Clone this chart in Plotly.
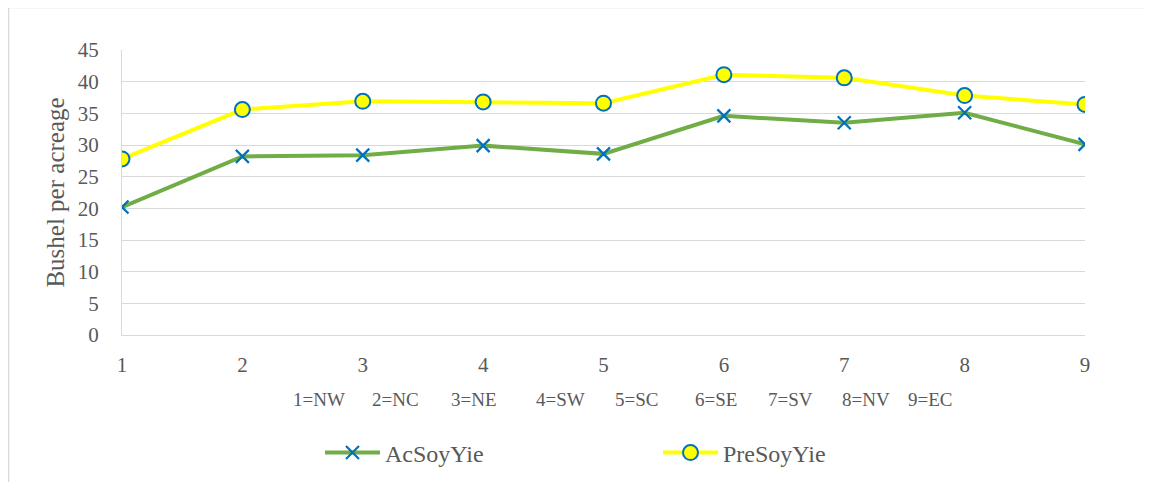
import plotly.graph_objects as go

regions = [1, 2, 3, 4, 5, 6, 7, 8, 9]
region_codes = ["NW", "NC", "NE", "SW", "SC", "SE", "SV", "NV", "EC"]
ac_soy_yie = [20.2, 28.2, 28.4, 29.9, 28.6, 34.6, 33.5, 35.1, 30.1]
pre_soy_yie = [27.8, 35.6, 36.9, 36.8, 36.6, 41.1, 40.6, 37.8, 36.4]
y_ticks = [0, 5, 10, 15, 20, 25, 30, 35, 40, 45]

FONT = "Liberation Serif"
GRAY = "#595959"

fig = go.Figure()
fig.add_trace(go.Scatter(
    x=regions, y=ac_soy_yie, name="AcSoyYie", mode="lines+markers",
    line=dict(color="#70AD47", width=4),
    marker=dict(symbol="x-thin", size=13, line=dict(color="#0070C0", width=2.2), color="#0070C0"),
))
fig.add_trace(go.Scatter(
    x=regions, y=pre_soy_yie, name="PreSoyYie", mode="lines+markers",
    line=dict(color="#FFFF00", width=4),
    marker=dict(symbol="circle", size=15, color="#FFFF00", line=dict(color="#0070C0", width=2)),
))

OFF = 8  # page body margin
L, R, T, B = 122 - OFF, 1085 - OFF, 50 - OFF, 335 - OFF
W, H = 1153, 482

# centres (page px) of the region key labels below the axis
note_px = [319, 395, 474, 560, 636, 716, 790, 866, 930]
annotations = [
    dict(text=f"{r}={c}", x=(px - OFF - L) / (R - L), y=(B - (399 - OFF)) / (B - T),
         xref="paper", yref="paper", xanchor="center", yanchor="middle", showarrow=False,
         font=dict(size=19, color=GRAY, family=FONT))
    for r, c, px in zip(regions, region_codes, note_px)
]

fig.update_layout(
    width=W, height=H,
    margin=dict(l=L, r=W - R, t=T, b=H - B, pad=0),
    paper_bgcolor="white", plot_bgcolor="white",
    font=dict(family=FONT, color=GRAY, size=21),
    showlegend=True,
    legend=dict(orientation="h", x=(320 - OFF - L) / (R - L), xanchor="left", y=-0.335, yanchor="top",
                font=dict(size=24, color=GRAY, family=FONT), itemwidth=55,
                tracegroupgap=0, entrywidth=268),
    xaxis=dict(range=[1, 9], tickvals=regions, ticktext=[str(r) for r in regions],
               showgrid=False, zeroline=False, showline=True, linecolor="#d9d9d9",
               linewidth=1, ticks="", ticklabelstandoff=11,
               tickfont=dict(size=21, color=GRAY, family=FONT)),
    yaxis=dict(range=[0, 45], tickvals=y_ticks, showgrid=True, gridcolor="#d9d9d9",
               gridwidth=1, zeroline=False, showline=True, linecolor="#d9d9d9",
               linewidth=1, ticks="", ticklabelstandoff=18,
               tickfont=dict(size=21, color=GRAY, family=FONT),
               title=dict(text="Bushel per acreage", standoff=6,
                          font=dict(size=25, color=GRAY, family=FONT))),
    annotations=annotations,
    shapes=[dict(type="rect", xref="paper", yref="paper",
                 x0=(0.5 - L) / (R - L), x1=(1160 - L) / (R - L),
                 y0=(B - 490) / (B - T), y1=(B + 0.5) / (B - T),
                 line=dict(color="#d9d9d9", width=1.5), layer="below")],
)

fig.write_html("out.html")
